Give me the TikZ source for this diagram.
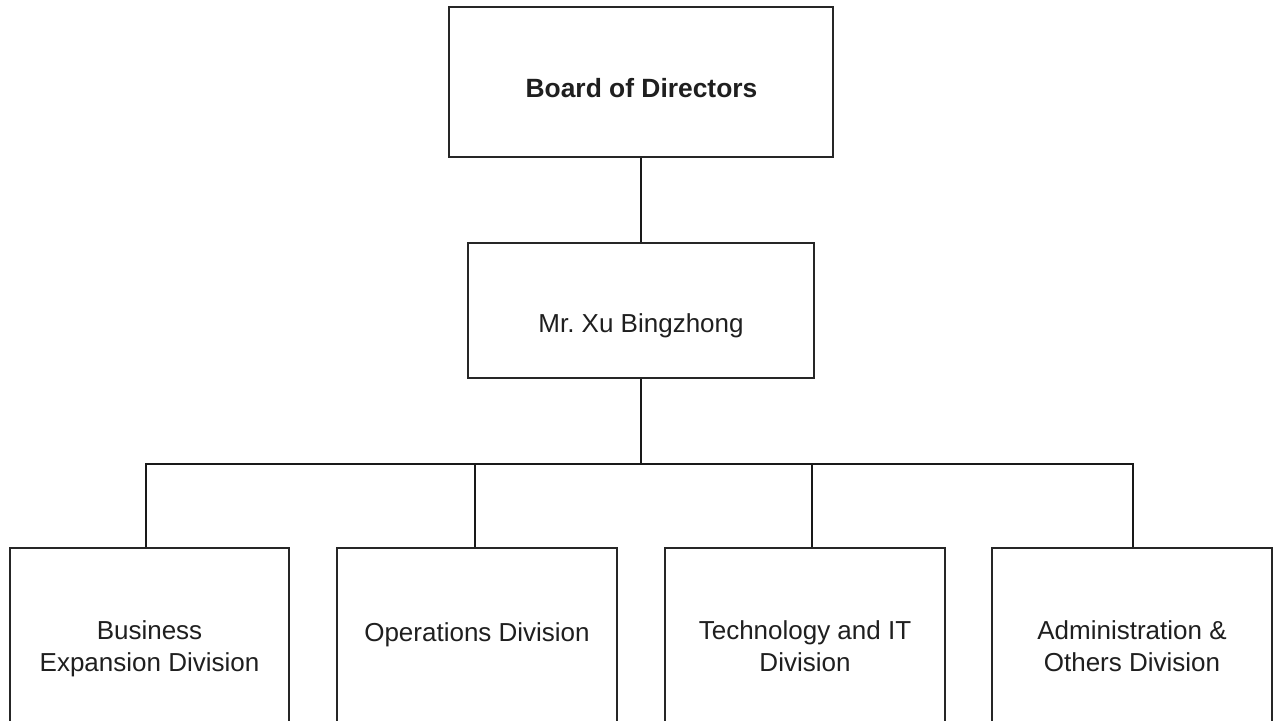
\documentclass[tikz,border=0pt]{standalone}
\usepackage{fontspec}
\setmainfont{Liberation Sans}
\frenchspacing
\begin{document}
\begin{tikzpicture}[x=1pt,y=-1pt,
  orgbox/.style={draw=black!85, line width=1.2pt, rectangle, inner sep=0pt, fill=white},
  conn/.style={draw=black!90, line width=2pt},
  lbl/.style={font=\fontsize{26}{32.5}\selectfont, text=black!88, anchor=base, inner sep=0pt, align=center}]
\useasboundingbox (0,0) rectangle (1273,720);
\clip (0,0) rectangle (1273,720);
% boxes
\node[orgbox, minimum width=384pt, minimum height=150pt] (board) at (641,82) {};
\node[orgbox, minimum width=346pt, minimum height=135pt] (xu) at (641,310.5) {};
\node[orgbox, minimum width=279pt, minimum height=212pt] (b1) at (149.5,654) {};
\node[orgbox, minimum width=280pt, minimum height=212pt] (b2) at (477,654) {};
\node[orgbox, minimum width=280pt, minimum height=212pt] (b3) at (805,654) {};
\node[orgbox, minimum width=280pt, minimum height=212pt] (b4) at (1132,654) {};
\coordinate (hub) at (641,464);
% connectors
\draw[conn] (board.south) -- (xu.north);
\draw[conn] (xu.south) -- (hub);
\draw[conn] ([xshift=-3.5pt]b1.north) |- (hub);
\draw[conn] ([xshift=1pt]b4.north) |- (hub);
\draw[conn] ([xshift=-2pt]b2.north) -- ([xshift=-2pt]b2.north |- hub);
\draw[conn] ([xshift=7pt]b3.north) -- ([xshift=7pt]b3.north |- hub);
% labels
\node[lbl, font=\fontsize{26.4}{32}\bfseries] (tboard) at (641.5,97.5) {Board of Directors};
\node[lbl] (txu) at (641,332) {Mr. Xu Bingzhong};
\node[lbl] (t1) at (149.5,671.5) {Business\\Expansion Division};
\node[lbl] (t2) at (477,641) {Operations Division};
\node[lbl] (t3) at (805,671.5) {Technology and IT\\Division};
\node[lbl] (t4) at (1132,671.5) {Administration \&\\Others Division};
\end{tikzpicture}
\end{document}
